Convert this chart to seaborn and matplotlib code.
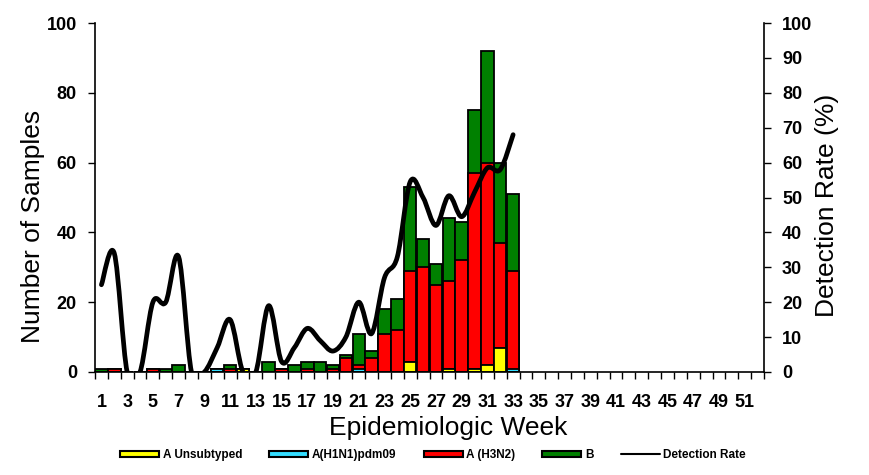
import numpy as np
import pandas as pd
import seaborn as sns
import matplotlib.pyplot as plt
from matplotlib.path import Path
from matplotlib.patches import PathPatch, Patch
from matplotlib.lines import Line2D

# weekly counts (weeks 1-33)
weeks = list(range(1, 34))
all_weeks = list(range(1, 53))
a_unsubtyped = [0, 0, 0, 0, 0, 0, 0, 0, 0, 0, 0, 1, 0, 0, 0, 0, 0, 0, 0, 0, 0,
                0, 0, 0, 3, 0, 0, 1, 0, 1, 2, 7, 0]
a_h1n1 = [0, 0, 0, 0, 0, 0, 0, 0, 0, 1, 0, 0, 0, 0, 0, 0, 0, 0, 0, 0, 1,
          0, 0, 0, 0, 0, 0, 0, 0, 0, 0, 0, 1]
a_h3n2 = [0, 1, 0, 0, 1, 0, 0, 0, 0, 0, 1, 0, 0, 0, 1, 0, 1, 0, 1, 4, 1,
          4, 11, 12, 26, 30, 25, 25, 32, 56, 58, 30, 28]
b = [1, 0, 0, 0, 0, 1, 2, 0, 0, 0, 1, 0, 0, 3, 0, 2, 2, 3, 1, 1, 9,
     2, 7, 9, 24, 8, 6, 18, 11, 18, 32, 23, 22]
detection_rate = [25, 34, 0, 0, 20, 20, 33, 0, 0, 7, 15, 0, 0, 19, 3, 7, 12.5,
                  9, 6, 10, 20, 11, 27, 33, 54.5, 50, 42, 50.5, 44.5, 51.5,
                  58.5, 58, 68]

series_names = ['A Unsubtyped', 'A(H1N1)pdm09', 'A (H3N2)', 'B']
series_colors = ['#FFFF00', '#33DDFF', '#FF0000', '#008000']

df = pd.DataFrame({'week': weeks, 'A Unsubtyped': a_unsubtyped,
                   'A(H1N1)pdm09': a_h1n1, 'A (H3N2)': a_h3n2, 'B': b})
stacked = df[series_names].cumsum(axis=1)

sns.set_theme(style='white')
plt.rcParams['font.family'] = ['Liberation Sans', 'DejaVu Sans']
plt.rcParams.update({'text.color': 'black', 'axes.labelcolor': 'black',
                     'xtick.color': 'black', 'ytick.color': 'black'})

fig = plt.figure(figsize=(8.69, 4.75), dpi=100)
ax = fig.add_axes([95 / 869, 103 / 475, 669 / 869, 349 / 475])

# draw cumulative totals from the top layer down so each layer covers the next
for name, color in zip(series_names[::-1], series_colors[::-1]):
    sns.barplot(x=df['week'], y=stacked[name], order=all_weeks, color=color,
                saturation=1, edgecolor='black', linewidth=1.3, width=0.97,
                errorbar=None, ax=ax)

ax.set_xlim(-0.5, 51.5)
ax.set_ylim(0, 100)
ax.set_yticks(range(0, 101, 20))
ax.set_xticks(range(0, 52, 2))
ax.set_xticklabels([str(w) for w in all_weeks[::2]], fontweight='bold',
                   fontsize=13)
ax.set_xticks(np.arange(-0.5, 52, 1), minor=True)
ax.tick_params(axis='x', which='major', length=0, pad=16)
ax.tick_params(axis='x', which='minor', length=5, width=1, color='black',
               direction='out', bottom=True)
ax.tick_params(axis='y', length=5, width=1, color='black', direction='out',
               pad=8, left=True, labelsize=13)
for lab in ax.get_yticklabels():
    lab.set_fontweight('bold')

for side in ['left', 'bottom']:
    ax.spines[side].set_color('black')
    ax.spines[side].set_linewidth(1.2)
ax.spines['top'].set_visible(False)
ax.spines['right'].set_visible(False)

ax.set_xlabel('Epidemiologic Week', fontsize=19)
ax.xaxis.set_label_coords((448 - 95) / 669, (372 - 416) / 349)
ax.set_ylabel('Number of Samples', fontsize=19)
ax.yaxis.set_label_coords((45 - 95) / 669, 0.418)

# detection rate on the right axis, smoothed like a spreadsheet curve
ax2 = ax.twinx()
ax2.set_ylim(0, 100)
ax2.set_yticks(range(0, 101, 10))
ax2.tick_params(axis='y', length=5, width=1, color='black', direction='out',
                pad=8, right=True, labelsize=13)
for lab in ax2.get_yticklabels():
    lab.set_fontweight('bold')
for side in ['left', 'top', 'bottom']:
    ax2.spines[side].set_visible(False)
ax2.spines['right'].set_color('black')
ax2.spines['right'].set_linewidth(1.2)
ax2.set_ylabel('Detection Rate (%)', fontsize=19, rotation=90)
ax2.yaxis.set_label_coords((815 - 95) / 669, 0.478)
ax2.grid(False)
ax.grid(False)

xs = np.array(weeks, dtype=float) - 1
ys = np.array(detection_rate, dtype=float)
verts = [(xs[0], ys[0])]
codes = [Path.MOVETO]
n = len(xs)
for i in range(n - 1):
    p0 = (xs[max(i - 1, 0)], ys[max(i - 1, 0)])
    p1 = (xs[i], ys[i])
    p2 = (xs[i + 1], ys[i + 1])
    p3 = (xs[min(i + 2, n - 1)], ys[min(i + 2, n - 1)])
    c1 = (p1[0] + (p2[0] - p0[0]) / 6, p1[1] + (p2[1] - p0[1]) / 6)
    c2 = (p2[0] - (p3[0] - p1[0]) / 6, p2[1] - (p3[1] - p1[1]) / 6)
    verts += [c1, c2, p2]
    codes += [Path.CURVE4] * 3
ax2.add_patch(PathPatch(Path(verts, codes), facecolor='none',
                        edgecolor='black', linewidth=3.4, capstyle='round',
                        joinstyle='round'))

handles = [Patch(facecolor=c, edgecolor='black', linewidth=1.5)
           for c in series_colors]
handles.append(Line2D([], [], color='black', linewidth=1.5))
fig.legend(handles, series_names + ['Detection Rate'], loc='center',
           bbox_to_anchor=(433 / 869, 1 - 455 / 475), ncol=5, frameon=False,
           prop={'weight': 'bold', 'size': 8.5},
           handlelength=3.3, handleheight=0.4, handletextpad=0.3,
           columnspacing=2.3)

fig.savefig('out.png', dpi=100)
